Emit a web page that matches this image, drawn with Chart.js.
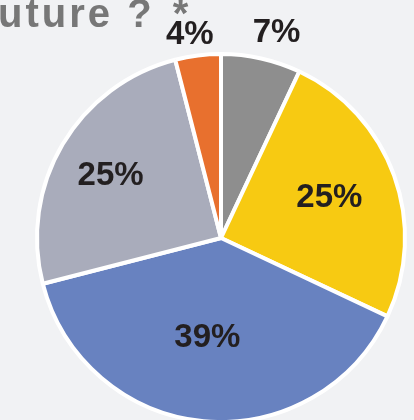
<!DOCTYPE html>
<html lang="en">
<head>
<meta charset="UTF-8">
<title>Pie</title>
<style>
  html, body { margin: 0; padding: 0; background: #f1f2f4; }
  body { width: 414px; height: 420px; overflow: hidden; position: relative; font-family: 'Liberation Sans', Arial, sans-serif; }
  #title { position: absolute; left: -2px; top: -10px; font-size: 40px; line-height: 46px; font-weight: bold; color: #777777; letter-spacing: 3px; white-space: nowrap; }
  #title .q { letter-spacing: 7px; }
  #wrap { position: absolute; left: 0; top: 0; width: 414px; height: 420px; }
</style>
</head>
<body>
<div id="wrap"><canvas id="pieChart" width="414" height="420"></canvas></div>
<div id="title">uture <span class="q">?</span> *</div>

<script src="https://cdn.jsdelivr.net/npm/chart.js"></script>
<script>
  // data
  const categories = ['A', 'B', 'C', 'D', 'E'];
  const shares = [7, 25, 39, 25, 4];
  const sliceColors = ['#8e8e8e', '#f7ca12', '#6882c0', '#a9acbb', '#e8702e'];
  // label distance from the centre (part of the radius) and turn (degrees)
  const labelRadius = [1.16, 0.63, 0.54, 0.69, 1.12];
  const labelTurn = [2.5, -1, 2.5, -1, -1.5];

  const pctLabels = {
      id: 'pctLabels',
      afterDatasetsDraw(chart) {
          const ctx = chart.ctx;
          const arcs = chart.getDatasetMeta(0).data;
          ctx.save();
          ctx.font = 'bold 33px "Liberation Sans", Arial, sans-serif';
          ctx.fillStyle = '#231f20';
          ctx.textAlign = 'center';
          ctx.textBaseline = 'middle';
          arcs.forEach((arc, i) => {
              const p = arc.getProps(['x', 'y', 'startAngle', 'endAngle', 'outerRadius'], true);
              const mid = (p.startAngle + p.endAngle) / 2 + labelTurn[i] * Math.PI / 180;
              const r = p.outerRadius * labelRadius[i];
              ctx.fillText(shares[i] + '%', p.x + Math.cos(mid) * r, p.y + Math.sin(mid) * r + 1);
          });
          ctx.restore();
      }
  };

  new Chart(document.getElementById('pieChart').getContext('2d'), {
      type: 'pie',
      data: {
          labels: categories,
          datasets: [{
              data: shares,
              backgroundColor: sliceColors,
              borderColor: '#ffffff',
              borderWidth: 4,
              clip: false
          }]
      },
      options: {
          responsive: false,
          animation: false,
          radius: 184,
          layout: { padding: { left: 28, right: 0, top: 56, bottom: 0 } },
          plugins: { legend: { display: false }, tooltip: { enabled: false }, title: { display: false } }
      },
      plugins: [pctLabels]
  });
</script>
</body>
</html>
